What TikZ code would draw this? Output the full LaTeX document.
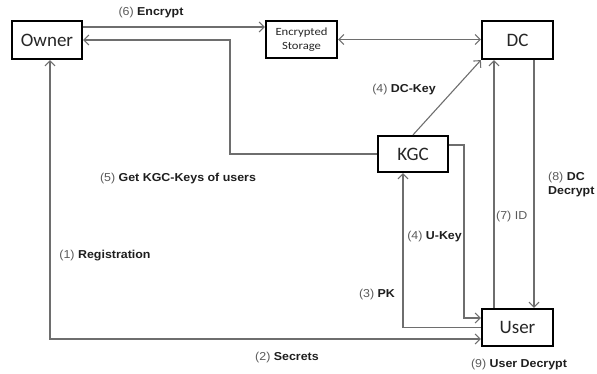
\documentclass[tikz,border=0pt]{standalone}
\usepackage{fontspec}
\setmainfont{Liberation Sans}[FakeStretch=1.08]
\newfontfamily\boxfont{Carlito}
\newfontfamily\smallboxfont{Carlito}[FakeStretch=1.15]
\usetikzlibrary{arrows.meta}
\definecolor{linegray}{HTML}{6E6E6E}
\definecolor{numgray}{HTML}{5A5A5A}
\definecolor{txtdark}{HTML}{1E1E1E}
\tikzset{
  boxnode/.style={draw=black, line width=2.2pt, fill=white, inner sep=0pt,
    font=\boxfont\fontsize{19}{21}\selectfont, text=black!85},
  conn/.style={draw=linegray, line width=1.1pt,
    arrows={-{Straight Barb[length=5pt,width=10pt]}}},
  bothconn/.style={draw=linegray, line width=1.1pt,
    arrows={{Straight Barb[length=5pt,width=10pt]}-{Straight Barb[length=5pt,width=10pt]}}},
  lbl/.style={font=\fontsize{11.5}{13.5}\selectfont, text=txtdark, inner sep=0pt}
}
\newcommand{\nm}[1]{{\color{numgray}(#1)}}
\begin{document}
\begin{tikzpicture}[x=1pt,y=-1pt]
\useasboundingbox (0,0) rectangle (597,373);
% boxes
\node[boxnode, minimum width=70pt, minimum height=38pt] (owner) at (47,40) {Owner};
\node[boxnode, minimum width=71pt, minimum height=37pt, align=center,
      font=\smallboxfont\fontsize{11}{14}\selectfont] (storage) at (301.5,39.5) {Encrypted\\Storage};
\node[boxnode, minimum width=71pt, minimum height=38pt] (dc) at (517.5,40) {DC};
\node[boxnode, minimum width=70pt, minimum height=36pt] (kgc) at (413,154) {KGC};
\node[boxnode, minimum width=71pt, minimum height=37pt] (user) at (517.5,327.5) {User};
% helper coordinates
\coordinate (k5) at (230,40);
\coordinate (uk) at (464,145);
% connectors
\draw[conn] ([yshift=13pt]owner.east) -- ([yshift=13pt]owner.east -| storage.west);
\draw[bothconn] (storage.east) -- (storage.east -| dc.west);
\draw[conn] (kgc.west) -| (k5) -- (owner.east);
\draw[conn] (kgc.north) -- (dc.south west);
\draw[bothconn] ([xshift=3pt]owner.south) |- ([yshift=-11.5pt]user.west);
\draw[conn] (user.west) -| ([xshift=-10pt]kgc.south);
\draw[conn] ([yshift=9pt]kgc.east) -- (uk) |- ([yshift=9.5pt]user.west);
\draw[conn] ([xshift=-23.5pt]user.north) -- ([xshift=-23.5pt]dc.south);
\draw[conn] ([xshift=16.5pt]dc.south) -- ([xshift=16.5pt]user.north);
% labels
\node[lbl] (l6) at (151,13) {\nm{6} \textbf{Encrypt}};
\node[lbl] (l4a) at (404,90) {\nm{4} \textbf{DC-Key}};
\node[lbl] (l5) at (178,179) {\nm{5} \textbf{Get KGC-Keys of users}};
\node[lbl] (l1) at (105,256) {\nm{1} \textbf{Registration}};
\node[lbl] (l2) at (287,358) {\nm{2} \textbf{Secrets}};
\node[lbl] (l3) at (377,295) {\nm{3} \textbf{PK}};
\node[lbl, anchor=east] (l4b) at (462,237) {\nm{4} \textbf{U-Key}};
\node[lbl, anchor=west] (l7) at (496,217) {\nm{7} {\color{numgray}ID}};
\node[lbl, anchor=north west, align=left] (l8) at (548,172) {\nm{8} \textbf{DC}\\\textbf{Decrypt}};
\node[lbl] (l9) at (519,365) {\nm{9} \textbf{User Decrypt}};
\end{tikzpicture}
\end{document}
